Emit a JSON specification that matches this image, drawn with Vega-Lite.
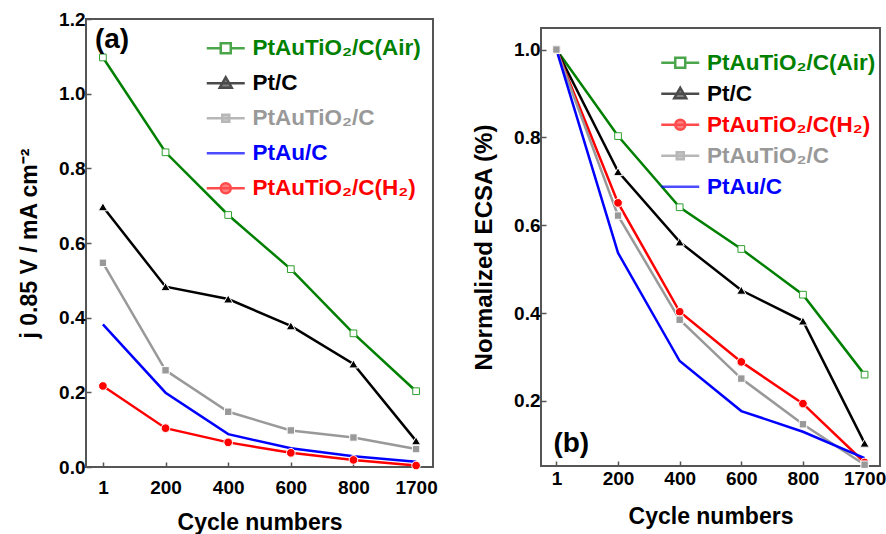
{
  "$schema": "https://vega.github.io/schema/vega-lite/v6.json",
  "background": "white",
  "padding": {"left": 17, "top": 9, "right": 0, "bottom": 0},
  "config": {
    "font": "Liberation Sans",
    "view": {"stroke": "#555555", "strokeWidth": 2},
    "axis": {"grid": false, "domain": false, "tickSize": -5, "tickColor": "#555555", "tickWidth": 1.5,
      "labelFont": "Liberation Sans", "labelFontSize": 19, "labelFontWeight": "bold", "labelColor": "black",
      "titleFont": "Liberation Sans", "titleFontSize": 23, "titleFontWeight": "bold", "titleColor": "black"},
    "legend": {"labelFont": "Liberation Sans", "labelFontSize": 22.5, "labelFontWeight": "bold", "labelLimit": 400, "labelOffset": 15.5, "symbolSize": 100, "symbolStrokeWidth": 2.5}
  },
  "datasets": {
    "a": [
      {"series": "PtAuTiO₂/C(Air)", "cycle": 1, "value": 1.097},
      {"series": "PtAuTiO₂/C(Air)", "cycle": 200, "value": 0.843},
      {"series": "PtAuTiO₂/C(Air)", "cycle": 400, "value": 0.675},
      {"series": "PtAuTiO₂/C(Air)", "cycle": 600, "value": 0.530},
      {"series": "PtAuTiO₂/C(Air)", "cycle": 800, "value": 0.358},
      {"series": "PtAuTiO₂/C(Air)", "cycle": 1700, "value": 0.203},
      {"series": "Pt/C", "cycle": 1, "value": 0.697},
      {"series": "Pt/C", "cycle": 200, "value": 0.483},
      {"series": "Pt/C", "cycle": 400, "value": 0.450},
      {"series": "Pt/C", "cycle": 600, "value": 0.378},
      {"series": "Pt/C", "cycle": 800, "value": 0.276},
      {"series": "Pt/C", "cycle": 1700, "value": 0.070},
      {"series": "PtAuTiO₂/C", "cycle": 1, "value": 0.547},
      {"series": "PtAuTiO₂/C", "cycle": 200, "value": 0.259},
      {"series": "PtAuTiO₂/C", "cycle": 400, "value": 0.148},
      {"series": "PtAuTiO₂/C", "cycle": 600, "value": 0.098},
      {"series": "PtAuTiO₂/C", "cycle": 800, "value": 0.079},
      {"series": "PtAuTiO₂/C", "cycle": 1700, "value": 0.048},
      {"series": "PtAu/C", "cycle": 1, "value": 0.382},
      {"series": "PtAu/C", "cycle": 200, "value": 0.199},
      {"series": "PtAu/C", "cycle": 400, "value": 0.088},
      {"series": "PtAu/C", "cycle": 600, "value": 0.050},
      {"series": "PtAu/C", "cycle": 800, "value": 0.029},
      {"series": "PtAu/C", "cycle": 1700, "value": 0.014},
      {"series": "PtAuTiO₂/C(H₂)", "cycle": 1, "value": 0.217},
      {"series": "PtAuTiO₂/C(H₂)", "cycle": 200, "value": 0.104},
      {"series": "PtAuTiO₂/C(H₂)", "cycle": 400, "value": 0.066},
      {"series": "PtAuTiO₂/C(H₂)", "cycle": 600, "value": 0.038},
      {"series": "PtAuTiO₂/C(H₂)", "cycle": 800, "value": 0.019},
      {"series": "PtAuTiO₂/C(H₂)", "cycle": 1700, "value": 0.004}
    ],
    "b": [
      {"series": "PtAuTiO₂/C(Air)", "cycle": 1, "value": 1.0},
      {"series": "PtAuTiO₂/C(Air)", "cycle": 200, "value": 0.803},
      {"series": "PtAuTiO₂/C(Air)", "cycle": 400, "value": 0.641},
      {"series": "PtAuTiO₂/C(Air)", "cycle": 600, "value": 0.546},
      {"series": "PtAuTiO₂/C(Air)", "cycle": 800, "value": 0.442},
      {"series": "PtAuTiO₂/C(Air)", "cycle": 1700, "value": 0.260},
      {"series": "Pt/C", "cycle": 1, "value": 1.0},
      {"series": "Pt/C", "cycle": 200, "value": 0.722},
      {"series": "Pt/C", "cycle": 400, "value": 0.562},
      {"series": "Pt/C", "cycle": 600, "value": 0.452},
      {"series": "Pt/C", "cycle": 800, "value": 0.382},
      {"series": "Pt/C", "cycle": 1700, "value": 0.104},
      {"series": "PtAuTiO₂/C(H₂)", "cycle": 1, "value": 1.0},
      {"series": "PtAuTiO₂/C(H₂)", "cycle": 200, "value": 0.651},
      {"series": "PtAuTiO₂/C(H₂)", "cycle": 400, "value": 0.403},
      {"series": "PtAuTiO₂/C(H₂)", "cycle": 600, "value": 0.289},
      {"series": "PtAuTiO₂/C(H₂)", "cycle": 800, "value": 0.194},
      {"series": "PtAuTiO₂/C(H₂)", "cycle": 1700, "value": 0.060},
      {"series": "PtAuTiO₂/C", "cycle": 1, "value": 1.0},
      {"series": "PtAuTiO₂/C", "cycle": 200, "value": 0.622},
      {"series": "PtAuTiO₂/C", "cycle": 400, "value": 0.385},
      {"series": "PtAuTiO₂/C", "cycle": 600, "value": 0.251},
      {"series": "PtAuTiO₂/C", "cycle": 800, "value": 0.147},
      {"series": "PtAuTiO₂/C", "cycle": 1700, "value": 0.055},
      {"series": "PtAu/C", "cycle": 1, "value": 1.0},
      {"series": "PtAu/C", "cycle": 200, "value": 0.537},
      {"series": "PtAu/C", "cycle": 400, "value": 0.291},
      {"series": "PtAu/C", "cycle": 600, "value": 0.177},
      {"series": "PtAu/C", "cycle": 800, "value": 0.130},
      {"series": "PtAu/C", "cycle": 1700, "value": 0.070}
    ]
  },
  "bounds": "full",
  "spacing": 32,
  "resolve": {"scale": {"stroke": "independent", "fill": "independent", "shape": "independent"}},
  "hconcat": [
    {
      "width": 347,
      "height": 448,
      "encoding": {
        "x": {"field": "cycle", "type": "ordinal", "scale": {"type": "point", "padding": 0.27, "domain": [1, 200, 400, 600, 800, 1700]},
          "axis": {"title": "Cycle numbers", "labelAngle": 0, "labelPadding": 16, "titlePadding": 14}},
        "y": {"field": "value", "type": "quantitative", "scale": {"domain": [0, 1.2], "nice": false, "zero": false},
          "axis": {"title": "j 0.85 V / mA cm⁻²", "values": [0, 0.2, 0.4, 0.6, 0.8, 1.0, 1.2], "format": ".1f", "labelPadding": 6, "titlePadding": 17}}
      },
      "layer": [
        {
          "data": {"name": "a"},
          "mark": {"type": "line", "strokeWidth": 2.5},
          "encoding": {
            "stroke": {"field": "series", "type": "nominal",
              "scale": {"domain": ["PtAuTiO₂/C(Air)", "Pt/C", "PtAuTiO₂/C", "PtAu/C", "PtAuTiO₂/C(H₂)"], "range": ["#008000", "#000000", "#999999", "#0000ff", "#ff0000"]},
              "legend": {"orient": "none", "legendX": 128.5, "legendY": 18, "title": null, "rowPadding": 12,
                "labelColor": {"expr": "datum.value === 'Pt/C' ? '#000000' : datum.value === 'PtAu/C' ? '#0000ff' : datum.value === 'PtAuTiO₂/C(Air)' ? '#008000' : datum.value === 'PtAuTiO₂/C(H₂)' ? '#ff0000' : '#999999'"}}}
          }
        },
        {
          "data": {"name": "a"},
          "transform": [{"filter": "datum.series !== 'PtAu/C'"}],
          "mark": {"type": "point", "filled": true, "strokeWidth": 1, "opacity": 1},
          "encoding": {
            "shape": {"condition": [{"test": "datum.series === 'PtAuTiO₂/C(Air)'", "value": "square"}, {"test": "datum.series === 'Pt/C'", "value": "triangle-up"}, {"test": "datum.series === 'PtAuTiO₂/C'", "value": "square"}], "value": "circle"},
            "fill": {"condition": [{"test": "datum.series === 'PtAuTiO₂/C(Air)'", "value": "#ffffff"}, {"test": "datum.series === 'Pt/C'", "value": "#000000"}, {"test": "datum.series === 'PtAuTiO₂/C'", "value": "#999999"}], "value": "#ff0000"},
            "stroke": {"condition": [{"test": "datum.series === 'PtAuTiO₂/C(Air)'", "value": "#2f9f2f"}], "value": "#ffffff"},
            "size": {"condition": [{"test": "datum.series === 'PtAuTiO₂/C(Air)'", "value": 45}, {"test": "datum.series === 'Pt/C'", "value": 85}, {"test": "datum.series === 'PtAuTiO₂/C'", "value": 55}], "value": 75}
          }
        },
        {
          "data": {"values": [{"label": "(a)", "cycle": 1, "value": 1.144}]},
          "mark": {"type": "text", "align": "left", "baseline": "middle", "fontSize": 28, "fontWeight": "bold", "dx": -8, "fill": "black"},
          "encoding": {
            "text": {"field": "label", "type": "nominal"}
          }
        },
        {
          "data": {"name": "a"},
          "transform": [{"filter": "datum.cycle > 5000"}],
          "mark": {"type": "point", "filled": true},
          "encoding": {
            "stroke": {"field": "series", "type": "nominal",
              "scale": {"domain": ["PtAuTiO₂/C(Air)", "Pt/C", "PtAuTiO₂/C", "PtAu/C", "PtAuTiO₂/C(H₂)"], "range": ["#008000", "#000000", "#999999", "#0000ff", "#ff0000"]},
              "legend": {"orient": "none", "legendX": 128.5, "legendY": 18, "title": null, "rowPadding": 12}},
            "fill": {"field": "series", "type": "nominal",
              "scale": {"domain": ["PtAuTiO₂/C(Air)", "Pt/C", "PtAuTiO₂/C", "PtAu/C", "PtAuTiO₂/C(H₂)"], "range": ["#ffffff", "#000000", "#999999", "#0000ff", "#ff0000"]},
              "legend": {"orient": "none", "legendX": 128.5, "legendY": 18, "title": null, "rowPadding": 12}},
            "shape": {"field": "series", "type": "nominal",
              "scale": {"domain": ["PtAuTiO₂/C(Air)", "Pt/C", "PtAuTiO₂/C", "PtAu/C", "PtAuTiO₂/C(H₂)"], "range": ["M-3.8,0H-1M1,0H3.8M-1,-1H1V1H-1Z", "M-3.8,0H3.8M0,-1.2L1.2,0.9H-1.2Z", "M-3.8,0H3.8M-0.7,-0.7H0.7V0.7H-0.7Z", "M-3.8,0H3.8", "M-3.8,0H3.8M-1,0A1,1,0,1,0,1,0A1,1,0,1,0,-1,0Z"]},
              "legend": {"orient": "none", "legendX": 128.5, "legendY": 18, "title": null, "rowPadding": 12}}
          }
        }
      ]
    },
    {
      "spacing": 7,
      "vconcat": [
        {
          "width": 339,
          "height": 1,
          "view": {"stroke": null},
          "data": {"values": []},
          "mark": "point",
          "encoding": {}
        },
        {
          "width": 339,
          "height": 438,
          "encoding": {
            "x": {"field": "cycle", "type": "ordinal", "scale": {"type": "point", "padding": 0.25, "domain": [1, 200, 400, 600, 800, 1700]},
              "axis": {"title": "Cycle numbers", "labelAngle": 0, "labelPadding": 8, "titlePadding": 17}},
            "y": {"field": "value", "type": "quantitative", "scale": {"domain": [0.052, 1.049], "nice": false, "zero": false},
              "axis": {"title": "Normalized ECSA (%)", "titleFontSize": 24, "values": [0.2, 0.4, 0.6, 0.8, 1.0], "format": ".1f", "labelPadding": 6, "titlePadding": 17}}
          },
          "layer": [
            {
              "data": {"name": "b"},
              "mark": {"type": "line", "strokeWidth": 2.5},
              "encoding": {
                "stroke": {"field": "series", "type": "nominal",
                  "scale": {"domain": ["PtAuTiO₂/C(Air)", "Pt/C", "PtAuTiO₂/C(H₂)", "PtAuTiO₂/C", "PtAu/C"], "range": ["#008000", "#000000", "#ff0000", "#999999", "#0000ff"]},
                  "legend": {"orient": "none", "legendX": 128, "legendY": 32.5, "title": null, "rowPadding": 8,
                    "labelColor": {"expr": "datum.value === 'Pt/C' ? '#000000' : datum.value === 'PtAu/C' ? '#0000ff' : datum.value === 'PtAuTiO₂/C(Air)' ? '#008000' : datum.value === 'PtAuTiO₂/C(H₂)' ? '#ff0000' : '#999999'"}}}
              }
            },
            {
              "data": {"name": "b"},
              "transform": [{"filter": "datum.series !== 'PtAu/C'"}],
              "mark": {"type": "point", "filled": true, "strokeWidth": 1, "opacity": 1},
              "encoding": {
                "shape": {"condition": [{"test": "datum.series === 'PtAuTiO₂/C(Air)'", "value": "square"}, {"test": "datum.series === 'Pt/C'", "value": "triangle-up"}, {"test": "datum.series === 'PtAuTiO₂/C'", "value": "square"}], "value": "circle"},
                "fill": {"condition": [{"test": "datum.series === 'PtAuTiO₂/C(Air)'", "value": "#ffffff"}, {"test": "datum.series === 'Pt/C'", "value": "#000000"}, {"test": "datum.series === 'PtAuTiO₂/C'", "value": "#999999"}], "value": "#ff0000"},
                "stroke": {"condition": [{"test": "datum.series === 'PtAuTiO₂/C(Air)'", "value": "#2f9f2f"}], "value": "#ffffff"},
                "size": {"condition": [{"test": "datum.series === 'PtAuTiO₂/C(Air)'", "value": 45}, {"test": "datum.series === 'Pt/C'", "value": 85}, {"test": "datum.series === 'PtAuTiO₂/C'", "value": 55}], "value": 75}
              }
            },
            {
              "data": {"values": [{"label": "(b)", "cycle": 1, "value": 0.102}]},
              "mark": {"type": "text", "align": "left", "baseline": "middle", "fontSize": 28, "fontWeight": "bold", "dx": -3, "fill": "black"},
              "encoding": {
                "text": {"field": "label", "type": "nominal"}
              }
            },
            {
              "data": {"name": "b"},
              "transform": [{"filter": "datum.cycle > 5000"}],
              "mark": {"type": "point", "filled": true},
              "encoding": {
                "stroke": {"field": "series", "type": "nominal",
                  "scale": {"domain": ["PtAuTiO₂/C(Air)", "Pt/C", "PtAuTiO₂/C(H₂)", "PtAuTiO₂/C", "PtAu/C"], "range": ["#008000", "#000000", "#ff0000", "#999999", "#0000ff"]},
                  "legend": {"orient": "none", "legendX": 128, "legendY": 32.5, "title": null, "rowPadding": 8}},
                "fill": {"field": "series", "type": "nominal",
                  "scale": {"domain": ["PtAuTiO₂/C(Air)", "Pt/C", "PtAuTiO₂/C(H₂)", "PtAuTiO₂/C", "PtAu/C"], "range": ["#ffffff", "#000000", "#ff0000", "#999999", "#0000ff"]},
                  "legend": {"orient": "none", "legendX": 128, "legendY": 32.5, "title": null, "rowPadding": 8}},
                "shape": {"field": "series", "type": "nominal",
                  "scale": {"domain": ["PtAuTiO₂/C(Air)", "Pt/C", "PtAuTiO₂/C(H₂)", "PtAuTiO₂/C", "PtAu/C"], "range": ["M-3.8,0H-1M1,0H3.8M-1,-1H1V1H-1Z", "M-3.8,0H3.8M0,-1.2L1.2,0.9H-1.2Z", "M-3.8,0H3.8M-1,0A1,1,0,1,0,1,0A1,1,0,1,0,-1,0Z", "M-3.8,0H3.8M-0.7,-0.7H0.7V0.7H-0.7Z", "M-3.8,0H3.8"]},
                  "legend": {"orient": "none", "legendX": 128, "legendY": 32.5, "title": null, "rowPadding": 8}}
              }
            }
          ]
        }
      ]
    }
  ]
}
